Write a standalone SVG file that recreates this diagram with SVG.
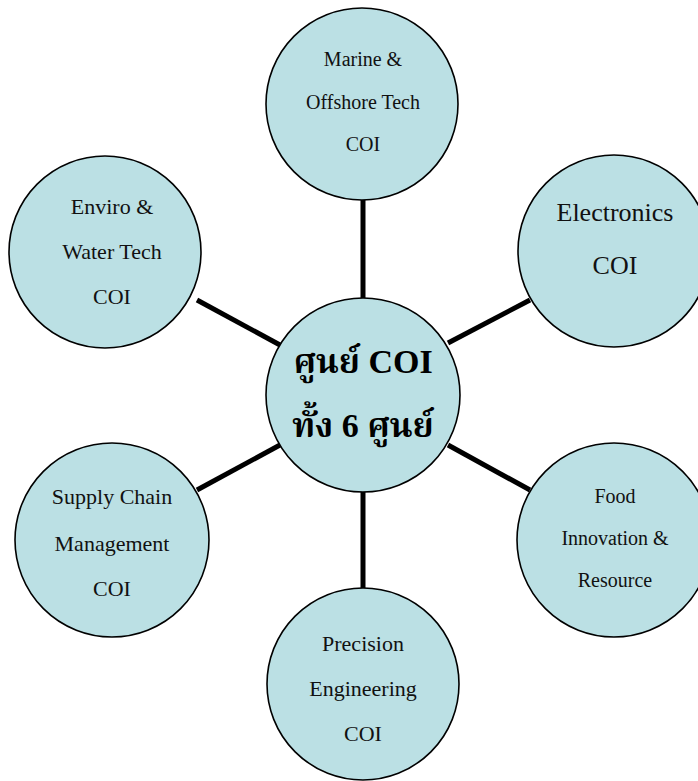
<svg xmlns="http://www.w3.org/2000/svg" width="698" height="781" viewBox="0 0 698 781">
<style>
.c{fill:#bbe0e4;stroke:#000;stroke-width:1.6}
.t{font-family:"Liberation Serif","Times New Roman",serif;font-size:22px;fill:#111;text-anchor:middle}
.s{font-size:20px}
.l{font-size:26px}
.b{font-family:"Liberation Serif","Noto Serif Thai","Noto Sans Thai",serif;font-size:34px;font-weight:bold;fill:#000;text-anchor:middle}
.e{stroke:#000;stroke-width:5;fill:none}
</style>
<rect width="698" height="781" fill="#fff"/>
<g id="connectors">
<line class="e" x1="363" y1="200" x2="363" y2="298"/>
<line class="e" x1="363" y1="492" x2="363" y2="588"/>
<line class="e" x1="197" y1="300" x2="280" y2="345"/>
<line class="e" x1="448" y1="343" x2="530" y2="300"/>
<line class="e" x1="197" y1="490" x2="280" y2="445"/>
<line class="e" x1="448" y1="445" x2="530" y2="490"/>
</g>
<g id="marine">
<circle class="c" cx="362" cy="104" r="96"/>
<text class="t s" x="363" y="66">Marine &amp;</text>
<text class="t s" x="363" y="109">Offshore Tech</text>
<text class="t s" x="363" y="151">COI</text>
</g>
<g id="electronics">
<circle class="c" cx="614" cy="251" r="96"/>
<text class="t l" x="615" y="221">Electronics</text>
<text class="t l" x="615" y="274">COI</text>
</g>
<g id="enviro">
<circle class="c" cx="105" cy="252" r="96"/>
<text class="t" x="112" y="214">Enviro &amp;</text>
<text class="t" x="112" y="259">Water Tech</text>
<text class="t" x="112" y="304">COI</text>
</g>
<g id="center">
<circle class="c" cx="363" cy="395" r="97"/>
<text class="b" x="363" y="373">ศูนย์ COI</text>
<text class="b" x="363" y="437">ทั้ง 6 ศูนย์</text>
</g>
<g id="supply">
<circle class="c" cx="112" cy="540" r="97"/>
<text class="t" x="112" y="504">Supply Chain</text>
<text class="t" x="112" y="551">Management</text>
<text class="t" x="112" y="596">COI</text>
</g>
<g id="food">
<circle class="c" cx="614" cy="540" r="97"/>
<text class="t s" x="615" y="503">Food</text>
<text class="t s" x="615" y="545">Innovation &amp;</text>
<text class="t s" x="615" y="587">Resource</text>
</g>
<g id="precision">
<circle class="c" cx="363" cy="684" r="96"/>
<text class="t" x="363" y="651">Precision</text>
<text class="t" x="363" y="696">Engineering</text>
<text class="t" x="363" y="741">COI</text>
</g>
</svg>
